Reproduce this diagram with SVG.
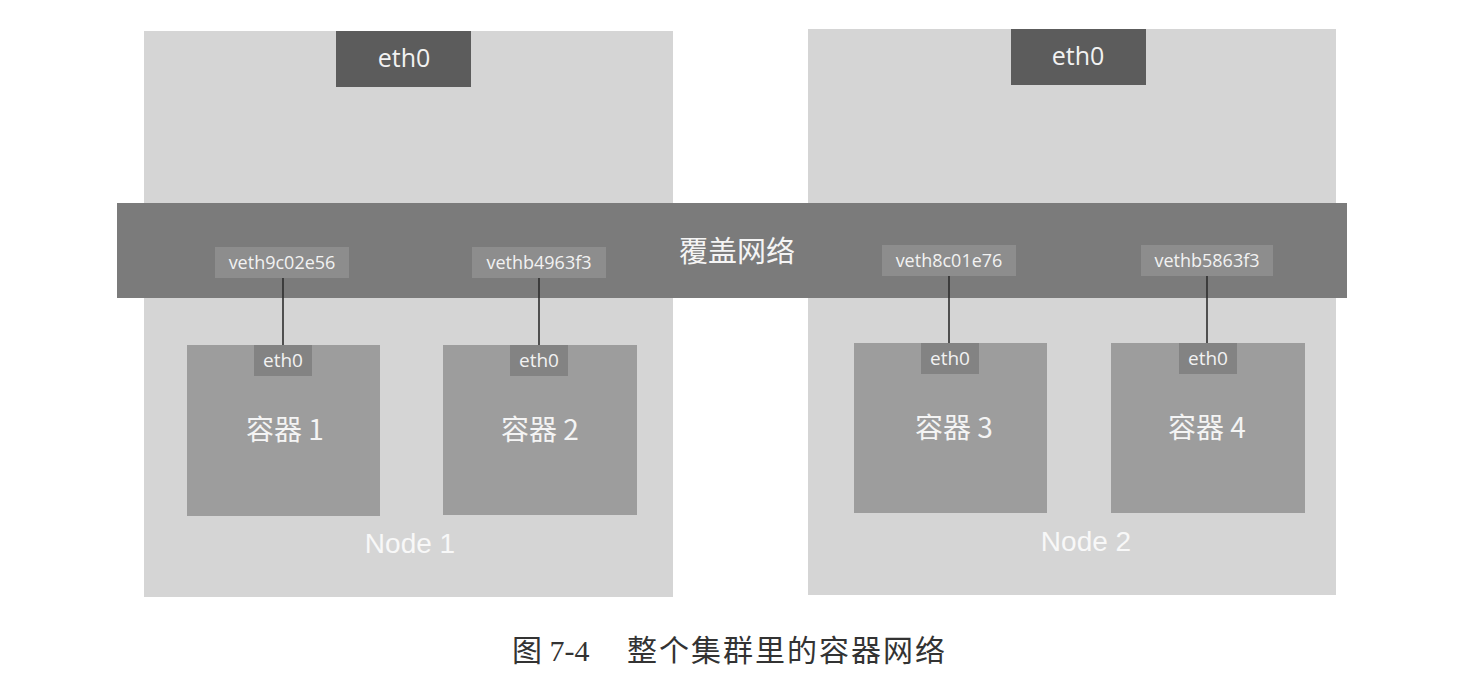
<svg xmlns="http://www.w3.org/2000/svg" width="1472" height="688" viewBox="0 0 1472 688">
  <style>
    .host { fill: #d5d5d5; }
    .hosteth { fill: #5c5c5c; }
    .bar { fill: #7b7b7b; }
    .veth { fill: #8d8d8d; }
    .ctr { fill: #9d9d9d; }
    .ceth { fill: #838383; }
    .lbl { font-family: "Open Sans", "Noto Sans", sans-serif; fill: #f2f2f2; text-anchor: middle; }
    .cjk { font-family: "Noto Sans CJK SC", sans-serif; fill: #f4f4f4; text-anchor: middle; }
    .nodelbl { font-family: "Liberation Sans", Arial, sans-serif; fill: #f8f8f8; text-anchor: middle; font-size: 28px; }
    .wire { stroke: #2e2e2e; stroke-width: 1.6; fill: none; }
    .cap { font-family: "Liberation Serif", "Noto Sans CJK SC", serif; fill: #333; font-size: 30px; }
  </style>
  <rect width="1472" height="688" fill="#ffffff"/>

  <g id="node1">
    <rect class="host" x="144" y="31" width="529" height="566"/>
    <text class="nodelbl" x="410" y="553">Node 1</text>
  </g>
  <g id="node2">
    <rect class="host" x="808" y="29" width="528" height="566"/>
    <text class="nodelbl" x="1086" y="551">Node 2</text>
  </g>

  <g id="node1-eth0">
    <rect class="hosteth" x="336" y="31" width="135" height="56"/>
    <text class="lbl" x="404" y="67" font-size="25">eth0</text>
  </g>
  <g id="node2-eth0">
    <rect class="hosteth" x="1011" y="29" width="135" height="56"/>
    <text class="lbl" x="1078" y="65" font-size="25">eth0</text>
  </g>

  <g id="overlay">
    <rect class="bar" x="117" y="203" width="1230" height="95"/>
    <text class="cjk" x="737" y="262" font-size="29">覆盖网络</text>
  </g>

  <g id="veth1">
    <rect class="veth" x="215" y="247" width="134" height="31"/>
    <text class="lbl" x="282" y="269" font-size="18">veth9c02e56</text>
  </g>
  <g id="veth2">
    <rect class="veth" x="472" y="247" width="134" height="31"/>
    <text class="lbl" x="539" y="269" font-size="18">vethb4963f3</text>
  </g>
  <g id="veth3">
    <rect class="veth" x="882" y="245" width="134" height="31"/>
    <text class="lbl" x="949" y="267" font-size="18">veth8c01e76</text>
  </g>
  <g id="veth4">
    <rect class="veth" x="1141" y="245" width="132" height="31"/>
    <text class="lbl" x="1207" y="267" font-size="18">vethb5863f3</text>
  </g>

  <g id="connectors">
    <line class="wire" x1="283" y1="278" x2="283" y2="346"/>
    <line class="wire" x1="539" y1="278" x2="539" y2="346"/>
    <line class="wire" x1="949" y1="276" x2="949" y2="344"/>
    <line class="wire" x1="1207" y1="276" x2="1207" y2="344"/>
  </g>

  <g id="container1">
    <rect class="ctr" x="187" y="345" width="193" height="171"/>
    <rect class="ceth" x="254" y="345" width="58" height="31"/>
    <text class="lbl" x="283" y="367" font-size="19">eth0</text>
    <text class="cjk" x="285" y="440" font-size="28">容器 1</text>
  </g>
  <g id="container2">
    <rect class="ctr" x="443" y="345" width="194" height="170"/>
    <rect class="ceth" x="510" y="345" width="58" height="31"/>
    <text class="lbl" x="539" y="367" font-size="19">eth0</text>
    <text class="cjk" x="540" y="440" font-size="28">容器 2</text>
  </g>
  <g id="container3">
    <rect class="ctr" x="854" y="343" width="193" height="170"/>
    <rect class="ceth" x="921" y="343" width="58" height="31"/>
    <text class="lbl" x="950" y="365" font-size="19">eth0</text>
    <text class="cjk" x="954" y="438" font-size="28">容器 3</text>
  </g>
  <g id="container4">
    <rect class="ctr" x="1111" y="343" width="194" height="170"/>
    <rect class="ceth" x="1179" y="343" width="58" height="31"/>
    <text class="lbl" x="1208" y="365" font-size="19">eth0</text>
    <text class="cjk" x="1207" y="438" font-size="28">容器 4</text>
  </g>

  <g id="caption">
    <text class="cap" x="512" y="661">图 7-4</text>
    <text class="cap" x="627" y="661" letter-spacing="2">整个集群里的容器网络</text>
  </g>
</svg>
